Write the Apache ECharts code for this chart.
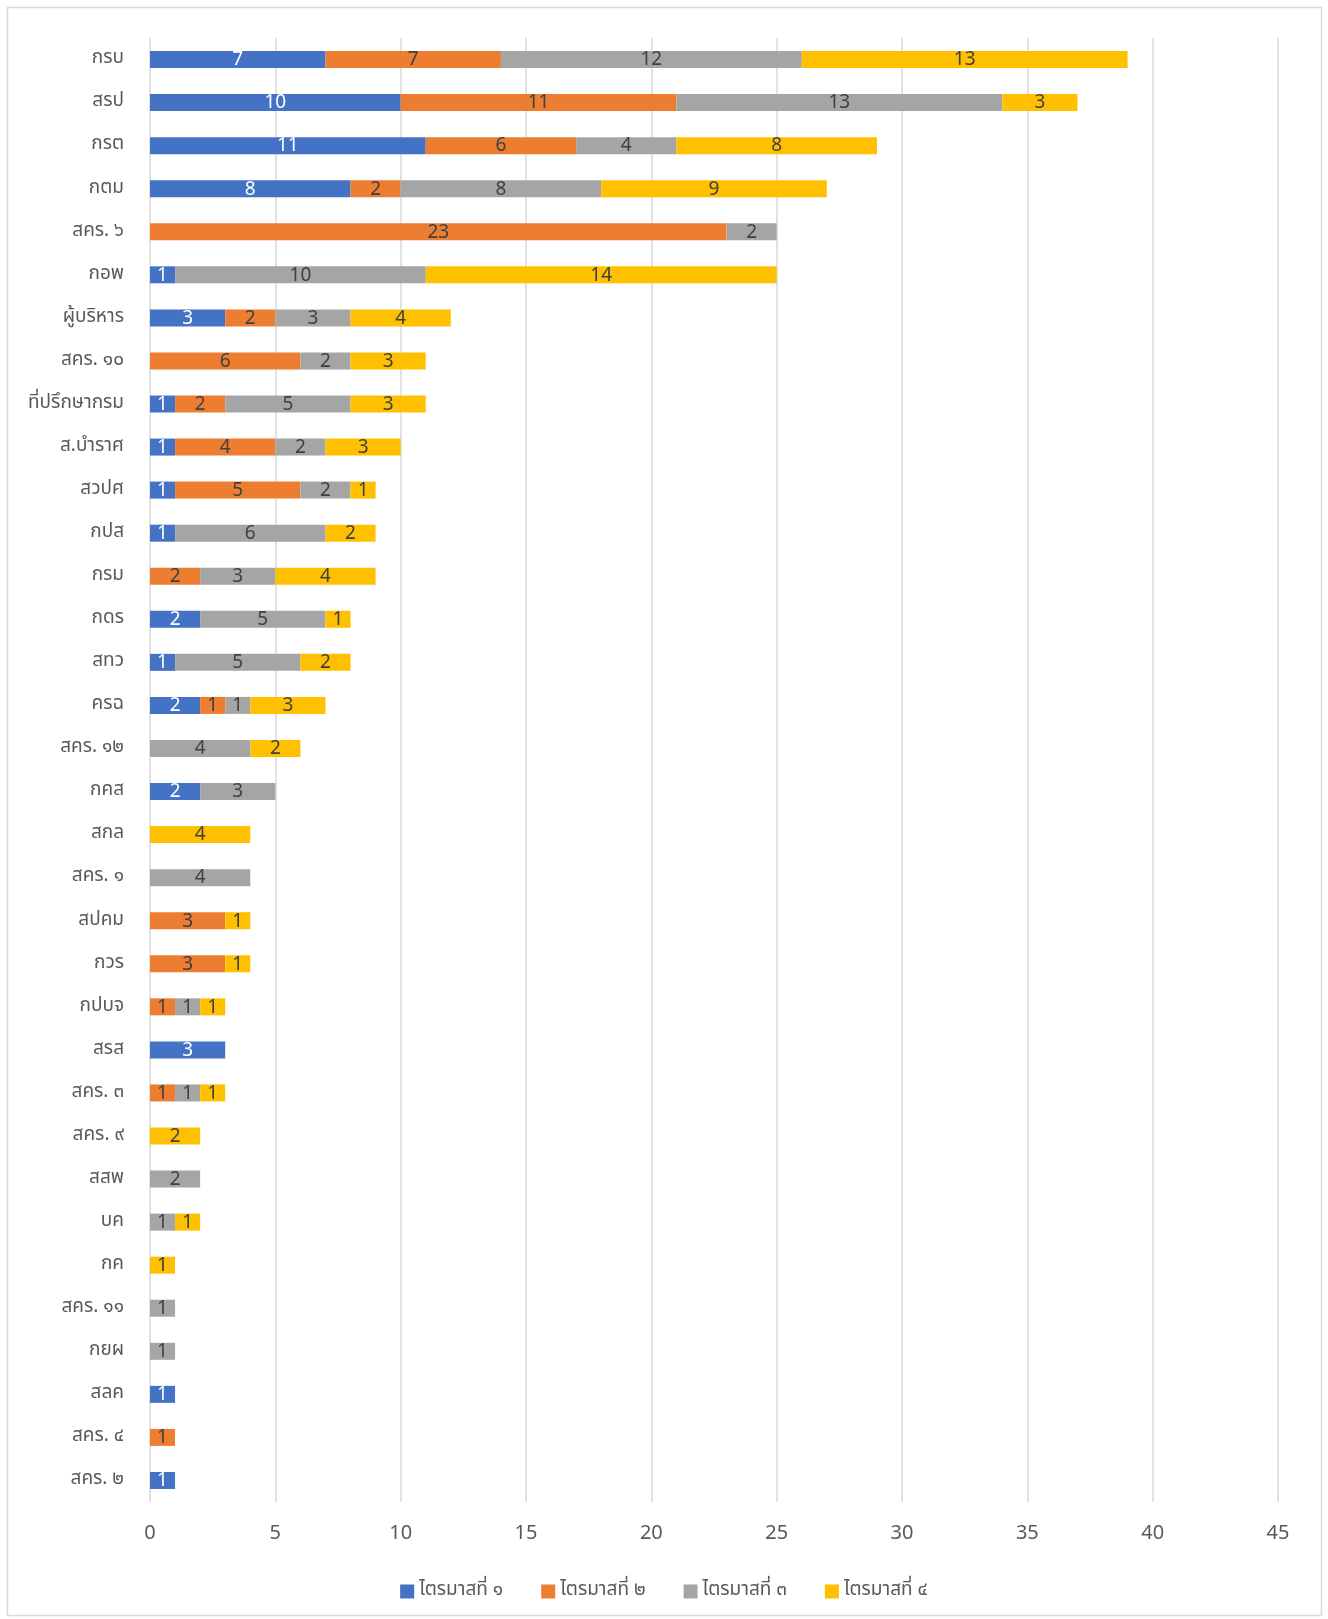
<!DOCTYPE html>
<html>
<head>
<meta charset="utf-8">
<script src="https://cdn.jsdelivr.net/npm/echarts@6/dist/echarts.min.js"></script>
<style>
  html, body { margin: 0; padding: 0; background: #fff; }
</style>
</head>
<body>
<div id="main" style="width:1328px;height:1619px;"></div>
<script>
var categories = ['กรบ', 'สรป', 'กรต', 'กตม', 'สคร. ๖', 'กอพ', 'ผู้บริหาร', 'สคร. ๑๐', 'ที่ปรึกษากรม', 'ส.บำราศ',
  'สวปศ', 'กปส', 'กรม', 'กดร', 'สทว', 'ครฉ', 'สคร. ๑๒', 'กคส', 'สกล', 'สคร. ๑',
  'สปคม', 'กวร', 'กปบจ', 'สรส', 'สคร. ๓', 'สคร. ๙', 'สสพ', 'บค', 'กค', 'สคร. ๑๑',
  'กยผ', 'สลค', 'สคร. ๔', 'สคร. ๒'];
var q1 = [7, 10, 11, 8, 0, 1, 3, 0, 1, 1, 1, 1, 0, 2, 1, 2, 0, 2, 0, 0, 0, 0, 0, 3, 0, 0, 0, 0, 0, 0, 0, 1, 0, 1];
var q2 = [7, 11, 6, 2, 23, 0, 2, 6, 2, 4, 5, 0, 2, 0, 0, 1, 0, 0, 0, 0, 3, 3, 1, 0, 1, 0, 0, 0, 0, 0, 0, 0, 1, 0];
var q3 = [12, 13, 4, 8, 2, 10, 3, 2, 5, 2, 2, 6, 3, 5, 5, 1, 4, 3, 0, 4, 0, 0, 1, 0, 1, 0, 2, 1, 0, 1, 1, 0, 0, 0];
var q4 = [13, 3, 8, 9, 0, 14, 4, 3, 3, 3, 1, 2, 4, 1, 2, 3, 2, 0, 4, 0, 1, 1, 1, 0, 1, 2, 0, 1, 1, 0, 0, 0, 0, 0];
var seriesNames = ['ไตรมาสที่ ๑', 'ไตรมาสที่ ๒', 'ไตรมาสที่ ๓', 'ไตรมาสที่ ๔'];
var ticks = [0, 5, 10, 15, 20, 25, 30, 35, 40, 45];

var FONT = "'Noto Sans Thai', 'Leelawadee UI', Tahoma, 'Noto Sans', sans-serif";
var colors = ['#4472C4', '#ED7D31', '#A5A5A5', '#FFC000'];

var chart = echarts.init(document.getElementById('main'));

function makeSeries(name, data, idx) {
  return {
    name: name,
    type: 'bar',
    stack: 'total',
    barWidth: 17,
    data: data,
    itemStyle: { color: colors[idx] },
    label: {
      show: true,
      position: 'inside',
      offset: [0, 2],
      fontFamily: FONT,
      fontSize: 19,
      color: idx === 0 ? '#ffffff' : '#404040',
      formatter: function (p) { return p.value ? p.value : ''; }
    }
  };
}

var option = {
  backgroundColor: '#ffffff',
  animation: false,
  textStyle: { fontFamily: FONT },
  grid: { left: 150, right: 50, top: 38, bottom: 117, containLabel: false },
  legend: {
    data: seriesNames,
    top: 1577,
    left: 'center',
    itemWidth: 14,
    itemHeight: 14,
    itemGap: 38,
    icon: 'rect',
    textStyle: { fontFamily: FONT, fontSize: 19, color: '#595959' }
  },
  xAxis: {
    type: 'value',
    min: 0,
    max: 45,
    interval: 5,
    axisLine: { show: false },
    axisTick: { show: false },
    axisLabel: {
      margin: 23,
      fontFamily: FONT,
      fontSize: 20,
      color: '#595959',
      formatter: function (v) { return ticks.indexOf(v) >= 0 ? String(v) : ''; }
    },
    splitLine: { show: true, lineStyle: { color: '#d9d9d9', width: 1.5 } }
  },
  yAxis: {
    type: 'category',
    inverse: true,
    data: categories,
    axisLine: { show: false },
    axisTick: { show: false },
    axisLabel: { margin: 26, padding: [9, 0, 0, 0], fontFamily: FONT, fontSize: 19, color: '#595959' }
  },
  graphic: [{
    type: 'rect',
    shape: { x: 7.5, y: 7.5, width: 1314, height: 1608 },
    style: { fill: 'none', stroke: '#d9d9d9', lineWidth: 1.5 },
    silent: true
  }],
  series: [
    makeSeries(seriesNames[0], q1, 0),
    makeSeries(seriesNames[1], q2, 1),
    makeSeries(seriesNames[2], q3, 2),
    makeSeries(seriesNames[3], q4, 3)
  ]
};

chart.setOption(option);
</script>
</body>
</html>
